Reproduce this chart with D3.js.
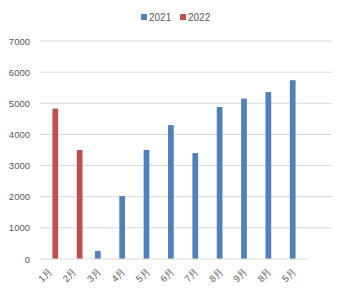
<!DOCTYPE html>
<html><head><meta charset="utf-8">
<script src="https://cdn.jsdelivr.net/npm/d3@7"></script>
<style>body{margin:0;background:#fff;}svg{display:block;font-family:"Noto Sans CJK SC","DejaVu Sans",sans-serif;}</style>
</head><body>
<svg id="c" width="345" height="300"></svg>
<script>
const categories = ["1月","2月","3月","4月","5月","6月","7月","8月","9月","8月 ","5月 "];
const series = ["2021","2022"];
const values2021 = [null,null,260,2020,3500,4300,3400,4880,5150,5360,5740];
const values2022 = [4830,3500,null,null,null,null,null,null,null,null,null];
const yTicks = [0,1000,2000,3000,4000,5000,6000,7000];
const colors = ["#4F81BD","#C0504D"];

(function(){
const svg = d3.select("#c");
const mLeft = 40, mRight = 308, gridRight = 332, mTop = 41, mBottom = 259;
const x = d3.scaleBand().domain(categories).range([mLeft, mRight]);
const xs = d3.scaleBand().domain(series).range([0, x.bandwidth()]).paddingInner(0.08).paddingOuter(1.0);
const y = d3.scaleLinear().domain([0,7000]).range([mBottom, mTop]);

svg.append("g").selectAll("line").data(yTicks.filter(d=>d>0)).join("line")
  .attr("x1", mLeft).attr("x2", gridRight)
  .attr("y1", d=>y(d)).attr("y2", d=>y(d))
  .attr("stroke", "#d9d9d9").attr("stroke-width", 1);

const yAxis = d3.axisLeft(y).tickValues(yTicks).tickFormat(d3.format("d")).tickSize(0).tickPadding(10);
const ya = svg.append("g").attr("transform", `translate(${mLeft},0)`).call(yAxis);
ya.select(".domain").remove();
ya.selectAll("text").attr("font-size", 9.5).attr("fill", "#595959").attr("font-family","Liberation Sans, Arial, sans-serif");

const data = [values2021, values2022];
data.forEach((vals, si) => {
  svg.append("g").selectAll("rect")
    .data(categories.map((c,i)=>({c, v: vals[i]})).filter(d=>d.v!=null))
    .join("rect")
    .attr("x", d => x(d.c) + xs(series[si]))
    .attr("width", xs.bandwidth())
    .attr("y", d => y(d.v))
    .attr("height", d => y(0) - y(d.v))
    .attr("fill", colors[si]);
});

svg.append("line").attr("x1", mLeft).attr("x2", mRight).attr("y1", y(0)).attr("y2", y(0))
  .attr("stroke", "#d9d9d9").attr("stroke-width", 1);

const xAxis = d3.axisBottom(x).tickSize(0).tickPadding(0);
const xa = svg.append("g").attr("transform", `translate(0,${mBottom})`).call(xAxis);
xa.select(".domain").remove();
xa.selectAll("text")
  .attr("font-size", 9.5).attr("fill", "#595959")
  .attr("text-anchor", "end")
  .attr("dy", 0)
  .attr("transform", "translate(1,13) rotate(-45)");

const lg = svg.append("g").attr("transform", "translate(141,17)");
series.forEach((s, i) => {
  const g = lg.append("g").attr("transform", `translate(${i*39},0)`);
  g.append("rect").attr("x", 0).attr("y", -3).attr("width", 6).attr("height", 6).attr("fill", colors[i]);
  g.append("text").attr("x", 8).attr("y", 3.5).attr("font-size", 10).attr("fill", "#595959")
    .attr("font-family","Liberation Sans, Arial, sans-serif").text(s);
});
})();
</script>
</body></html>
